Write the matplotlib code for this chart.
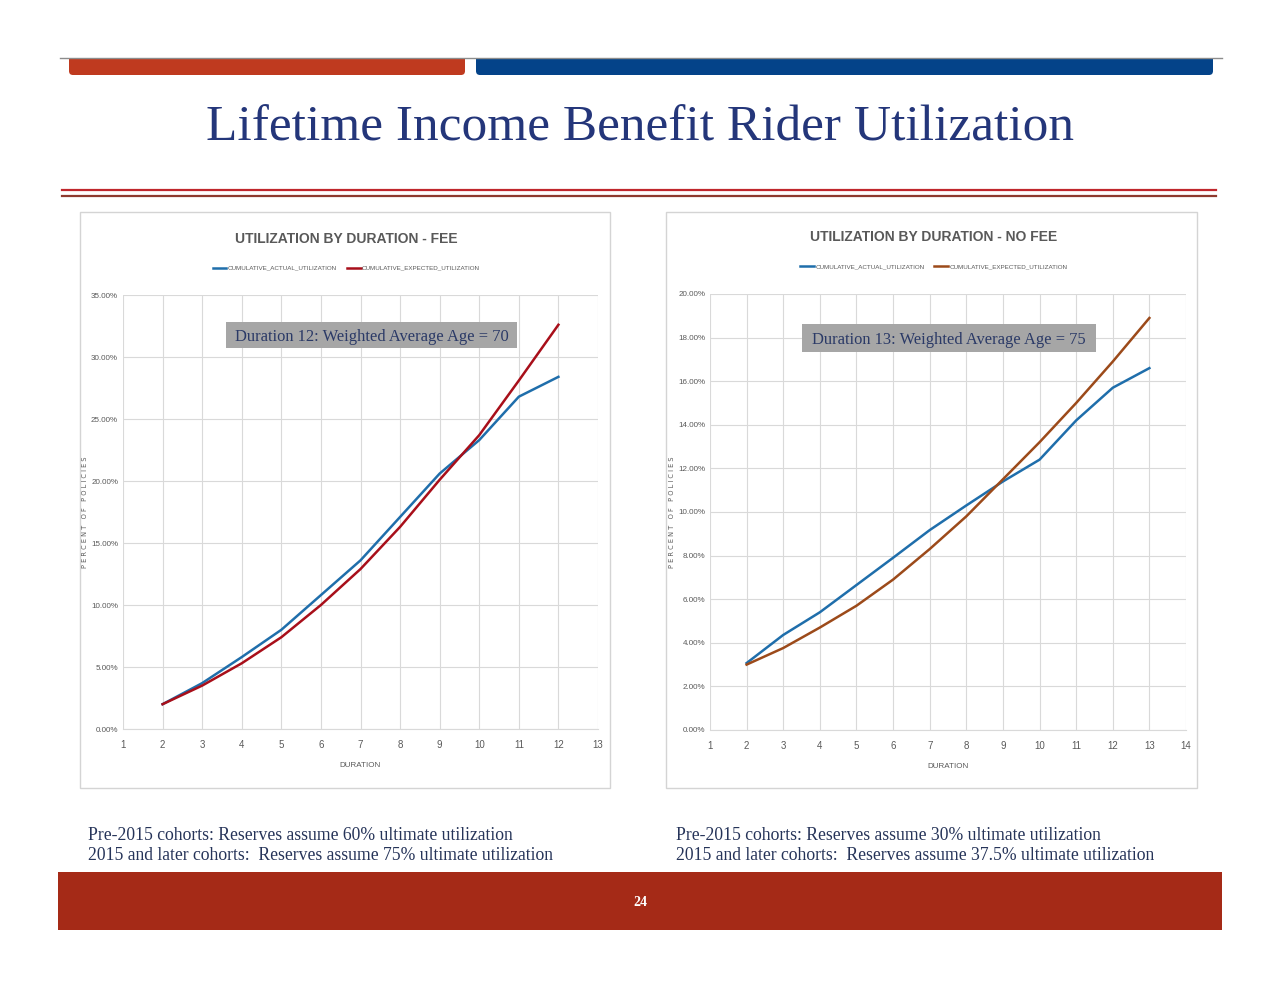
import matplotlib
matplotlib.use("Agg")
import matplotlib.pyplot as plt
from matplotlib.patches import Rectangle, FancyBboxPatch

# chart data
fee_duration = [2, 3, 4, 5, 6, 7, 8, 9, 10, 11, 12]
fee_actual = [2.0, 3.7, 5.8, 8.0, 10.8, 13.6, 17.1, 20.6, 23.3, 26.8, 28.4]
fee_expected = [2.0, 3.5, 5.3, 7.4, 10.0, 12.9, 16.3, 20.1, 23.7, 28.1, 32.6]

nofee_duration = [2, 3, 4, 5, 6, 7, 8, 9, 10, 11, 12, 13]
nofee_actual = [3.07, 4.36, 5.4, 6.65, 7.9, 9.17, 10.3, 11.4, 12.4, 14.2, 15.7, 16.6]
nofee_expected = [3.0, 3.76, 4.7, 5.7, 6.9, 8.3, 9.8, 11.5, 13.2, 15.0, 16.9, 18.9]

series_labels = ["CUMULATIVE_ACTUAL_UTILIZATION", "CUMULATIVE_EXPECTED_UTILIZATION"]

title = "Lifetime Income Benefit Rider Utilization"
notes_left = ["Pre-2015 cohorts: Reserves assume 60% ultimate utilization",
              "2015 and later cohorts:  Reserves assume 75% ultimate utilization"]
notes_right = ["Pre-2015 cohorts: Reserves assume 30% ultimate utilization",
               "2015 and later cohorts:  Reserves assume 37.5% ultimate utilization"]

NAVY = "#24367A"
TXT = "#263459"
GRAY = "#595959"
GRID = "#D9D9D9"
NARROW = ["Liberation Sans Narrow", "DejaVu Sans Condensed", "Liberation Sans", "DejaVu Sans"]
SERIF = ["Liberation Serif", "DejaVu Serif"]

fig = plt.figure(figsize=(12.8, 9.89), dpi=100)
fig.patch.set_facecolor("white")

# background axes in pixel coordinates for slide decorations
bg = fig.add_axes([0, 0, 1, 1])
bg.set_xlim(0, 1280)
bg.set_ylim(989, 0)
bg.axis("off")

# header bars
bg.plot([60, 1222], [58, 58], color="#8C8C8C", lw=1)
bg.add_patch(FancyBboxPatch((69, 60), 396, 15, boxstyle="round,pad=0,rounding_size=4",
                            fc="#BF3A1F", ec="none"))
bg.add_patch(FancyBboxPatch((476, 60), 737, 15, boxstyle="round,pad=0,rounding_size=4",
                            fc="#044389", ec="none"))
bg.add_patch(Rectangle((69, 59), 396, 6, fc="#BF3A1F", ec="none"))
bg.add_patch(Rectangle((476, 59), 737, 6, fc="#044389", ec="none"))

bg.text(640, 128, title, ha="center", va="center", fontsize=37, color=NAVY, family=SERIF)

# double rule under the title
bg.plot([62, 1216], [190, 190], color="#C0272D", lw=1.6)
bg.plot([62, 1216], [196, 196], color="#8E3A2E", lw=1.6)

# chart panels
bg.add_patch(Rectangle((80, 212), 530, 576, fc="white", ec="#D4D4D4", lw=1))
bg.add_patch(Rectangle((666, 212), 531, 576, fc="white", ec="#D4D4D4", lw=1))

# notes under the charts
for i, (l, r) in enumerate(zip(notes_left, notes_right)):
    bg.text(88, 835 + 21 * i, l, ha="left", va="center", fontsize=12.7, color=TXT, family=SERIF)
    bg.text(676, 835 + 21 * i, r, ha="left", va="center", fontsize=12.7, color=TXT, family=SERIF)

# footer band
bg.add_patch(Rectangle((58, 872), 1164, 58, fc="#A52A17", ec="none"))
bg.text(640, 903, "24", ha="center", va="center", fontsize=10, color="white",
        fontweight="bold", family=SERIF)


def draw_chart(rect, x, actual, expected, exp_color, xmax, ymax, ystep, chart_title, note, note_box):
    ax = fig.add_axes(rect)
    ax.set_facecolor("none")
    ax.plot(x, actual, color="#1F6EAB", lw=1.8, label=series_labels[0])
    ax.plot(x, expected, color=exp_color, lw=1.8, label=series_labels[1])
    ax.set_xlim(1, xmax)
    ax.set_ylim(0, ymax)
    ax.set_xticks(range(1, xmax + 1))
    yt = [ystep * k for k in range(int(round(ymax / ystep)) + 1)]
    ax.set_yticks(yt)
    ax.set_yticklabels([f"{v:.2f}%" for v in yt])
    ax.grid(True, color=GRID, lw=0.8)
    ax.set_axisbelow(True)
    for s in ["top", "right", "left"]:
        ax.spines[s].set_visible(False)
    ax.spines["bottom"].set_color(GRID)
    ax.tick_params(axis="y", length=0, labelsize=5.8, labelcolor=GRAY, pad=3.5)
    ax.tick_params(axis="x", length=0, labelsize=7, labelcolor=GRAY, pad=8)
    for lab in ax.get_xticklabels() + ax.get_yticklabels():
        lab.set_family(NARROW)
        lab.set_fontstretch("condensed")
    ax.text(0.5, -0.083, "DURATION", transform=ax.transAxes, ha="center", va="center",
            fontsize=5.8, color=GRAY, family=NARROW, fontstretch="condensed")
    ax.text(-0.08, 0.5, "P E R C E N T   O F   P O L I C I E S", transform=ax.transAxes,
            rotation=90, ha="center", va="center", fontsize=4.8, color=GRAY)
    ax.text(0.47, 1.13, chart_title, transform=ax.transAxes, ha="center", va="center",
            fontsize=10, color=GRAY, fontweight="bold", family=NARROW, fontstretch="condensed")
    ax.legend(loc="center", bbox_to_anchor=(0.47, 1.062), ncol=2, frameon=False,
              prop={"family": NARROW, "size": 4.5, "stretch": "condensed"}, labelcolor=GRAY,
              handlelength=2.2, columnspacing=1.6, handletextpad=0.2)
    x0, y0, w, h = note_box
    ax.add_patch(Rectangle((x0, y0), w, h, transform=ax.transAxes, fc="#A6A6A6", ec="none",
                           zorder=5, clip_on=False))
    ax.text(x0 + w / 2, y0 + h / 2 - 0.004, note, transform=ax.transAxes, ha="center",
            va="center", fontsize=11.9, color="#2B3A67", family=SERIF, zorder=6)
    return ax


draw_chart([123 / 1280, 1 - 729 / 989, 475 / 1280, 434 / 989],
           fee_duration, fee_actual, fee_expected, "#A80F1A", 13, 35, 5,
           "UTILIZATION BY DURATION - FEE",
           "Duration 12: Weighted Average Age = 70", (0.217, 0.878, 0.612, 0.06))
draw_chart([710 / 1280, 1 - 730 / 989, 476 / 1280, 436 / 989],
           nofee_duration, nofee_actual, nofee_expected, "#9C4A1A", 14, 20, 2,
           "UTILIZATION BY DURATION - NO FEE",
           "Duration 13: Weighted Average Age = 75", (0.193, 0.867, 0.618, 0.064))

fig.savefig("out.png", dpi=100)
